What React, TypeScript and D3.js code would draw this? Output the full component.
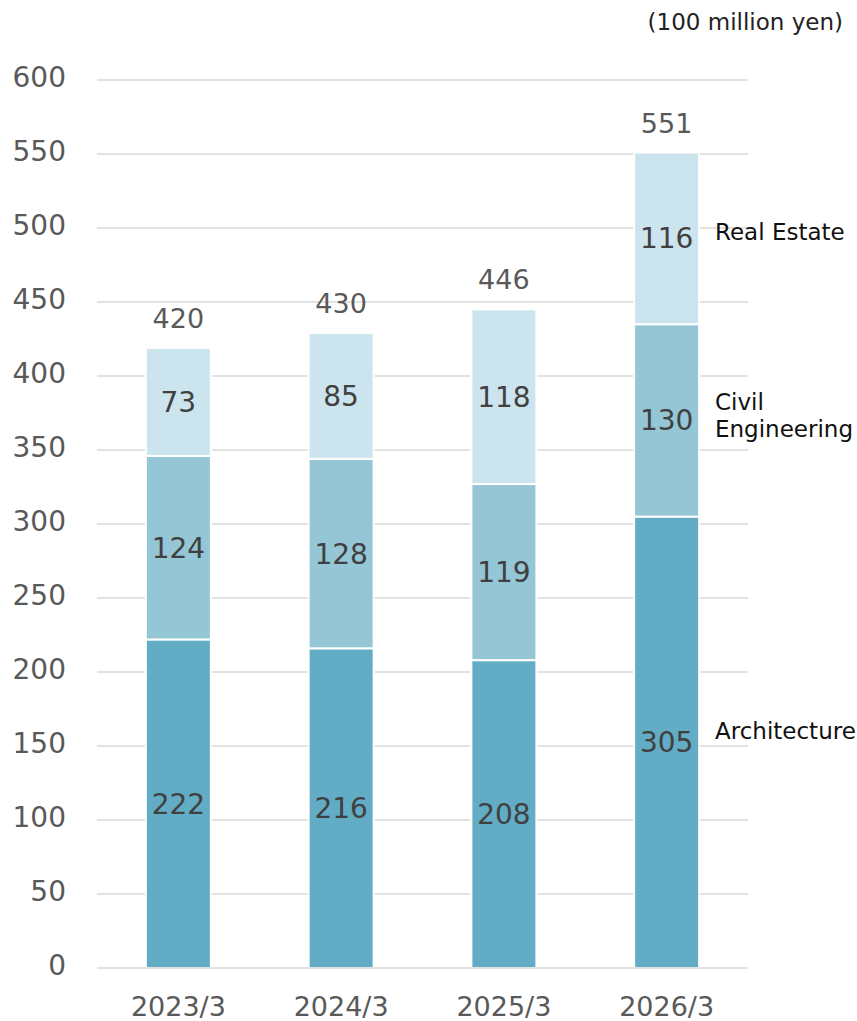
import React from "react";
import * as d3 from "d3";

const categories = ["2023/3", "2024/3", "2025/3", "2026/3"];
const architecture = [222, 216, 208, 305];
const civilEngineering = [124, 128, 119, 130];
const realEstate = [73, 85, 118, 116];
const totals = ["420", "430", "446", "551"];
const seriesNames = ["Architecture", "Civil Engineering", "Real Estate"];
const yTicks = [0, 50, 100, 150, 200, 250, 300, 350, 400, 450, 500, 550, 600];

const W = 857;
const H = 1021;
const FONT = "'DejaVu Sans', Verdana, sans-serif";
const colors = ["#62acc5", "#94c6d6", "#cce4ee"];

export default function App() {
  const x = d3
    .scaleBand<string>()
    .domain(categories)
    .range([97, 748])
    .paddingInner(0.6006)
    .paddingOuter(0.3003);
  const y = d3.scaleLinear().domain([0, 600]).range([968, 80]);

  const rows = categories.map((c, i) => ({
    cat: c,
    Architecture: architecture[i],
    "Civil Engineering": civilEngineering[i],
    "Real Estate": realEstate[i],
  }));
  const stack = d3.stack<any>().keys(seriesNames)(rows);

  const bw = x.bandwidth();

  return (
    <div style={{ position: "absolute", left: 0, top: 0 }}>
      <svg width={W} height={H} style={{ display: "block" }}>
        <rect width={W} height={H} fill="#fff" />
        <text x={843} y={30} textAnchor="end" fontFamily={FONT} fontSize={23} fill="#222">
          (100 million yen)
        </text>
        {yTicks.map((t) => (
          <g key={t}>
            {t !== 0 && (
              <line x1={97} x2={748} y1={y(t)} y2={y(t)} stroke="#d9d9d9" strokeWidth={1.6} />
            )}
            <text
              x={66}
              y={y(t) + 7}
              textAnchor="end"
              fontFamily={FONT}
              fontSize={28}
              fill="#595959"
            >
              {t}
            </text>
          </g>
        ))}
        {stack.map((s, si) =>
          s.map((d, i) => {
            const x0 = x(categories[i])!;
            const top = y(d[1]);
            const bot = y(d[0]);
            return (
              <g key={si + "-" + i}>
                <rect
                  x={x0}
                  y={top}
                  width={bw}
                  height={bot - top}
                  fill={colors[si]}
                  stroke="#fff"
                  strokeWidth={2}
                />
                <text
                  x={x0 + bw / 2}
                  y={(top + bot) / 2 + 10}
                  textAnchor="middle"
                  fontFamily={FONT}
                  fontSize={28}
                  fill="#404040"
                >
                  {d[1] - d[0]}
                </text>
              </g>
            );
          })
        )}
        <line x1={97} x2={748} y1={y(0)} y2={y(0)} stroke="#d9d9d9" strokeWidth={1.6} />
        {categories.map((c, i) => {
          const sum = architecture[i] + civilEngineering[i] + realEstate[i];
          return (
            <g key={c}>
              <text
                x={x(c)! + bw / 2}
                y={y(sum) - 20}
                textAnchor="middle"
                fontFamily={FONT}
                fontSize={27}
                fill="#595959"
              >
                {totals[i]}
              </text>
              <text
                x={x(c)! + bw / 2}
                y={1016}
                textAnchor="middle"
                fontFamily={FONT}
                fontSize={27}
                fill="#595959"
              >
                {c}
              </text>
            </g>
          );
        })}
        <text x={715} y={240} fontFamily={FONT} fontSize={23} fill="#111">
          Real Estate
        </text>
        <text x={715} y={410} fontFamily={FONT} fontSize={23} fill="#111">
          Civil
        </text>
        <text x={715} y={437} fontFamily={FONT} fontSize={23} fill="#111">
          Engineering
        </text>
        <text x={715} y={739} fontFamily={FONT} fontSize={23} fill="#111">
          Architecture
        </text>
      </svg>
    </div>
  );
}
